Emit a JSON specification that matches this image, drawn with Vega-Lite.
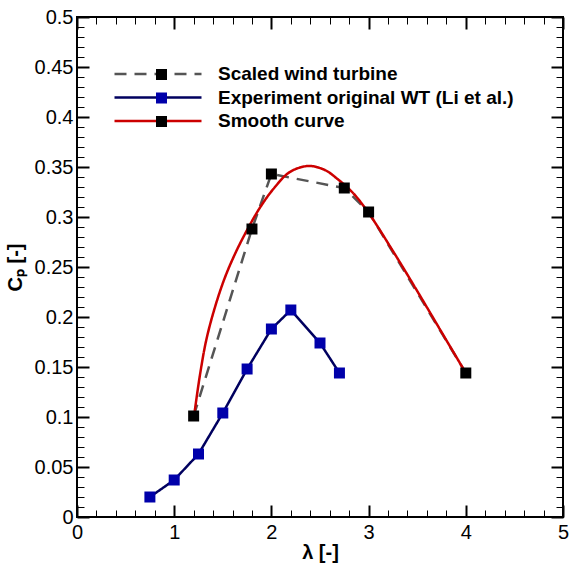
{
  "$schema": "https://vega.github.io/schema/vega-lite/v6.json",
  "width": 486,
  "height": 500,
  "autosize": {"type": "none"},
  "padding": {"left": 77, "top": 17, "right": 6, "bottom": 46},
  "config": {
    "view": {"stroke": "black", "strokeWidth": 2},
    "font": "Liberation Sans",
    "axis": {"grid": false, "domain": false, "labelFlush": false, "labelFont": "Liberation Sans", "labelFontSize": 20, "labelColor": "black", "tickColor": "black", "titleColor": "black", "titleFont": "Liberation Sans", "titleFontSize": 20, "titleFontWeight": "bold"}
  },
  "datasets": {
    "scaled": [
      {"series": "Scaled wind turbine", "lambda": 1.2, "cp": 0.101},
      {"series": "Scaled wind turbine", "lambda": 1.8, "cp": 0.288},
      {"series": "Scaled wind turbine", "lambda": 2.0, "cp": 0.343},
      {"series": "Scaled wind turbine", "lambda": 2.75, "cp": 0.329},
      {"series": "Scaled wind turbine", "lambda": 3.0, "cp": 0.305},
      {"series": "Scaled wind turbine", "lambda": 4.0, "cp": 0.144}
    ],
    "exp": [
      {"series": "Experiment original WT (Li et al.)", "lambda": 0.75, "cp": 0.020},
      {"series": "Experiment original WT (Li et al.)", "lambda": 1.0, "cp": 0.037},
      {"series": "Experiment original WT (Li et al.)", "lambda": 1.25, "cp": 0.063},
      {"series": "Experiment original WT (Li et al.)", "lambda": 1.5, "cp": 0.104},
      {"series": "Experiment original WT (Li et al.)", "lambda": 1.75, "cp": 0.148},
      {"series": "Experiment original WT (Li et al.)", "lambda": 2.0, "cp": 0.188},
      {"series": "Experiment original WT (Li et al.)", "lambda": 2.2, "cp": 0.207},
      {"series": "Experiment original WT (Li et al.)", "lambda": 2.5, "cp": 0.174},
      {"series": "Experiment original WT (Li et al.)", "lambda": 2.7, "cp": 0.144}
    ],
    "smooth": [
      {"series": "Smooth curve", "lambda": 1.21, "cp": 0.105},
      {"series": "Smooth curve", "lambda": 1.265, "cp": 0.142},
      {"series": "Smooth curve", "lambda": 1.33, "cp": 0.177},
      {"series": "Smooth curve", "lambda": 1.42, "cp": 0.210},
      {"series": "Smooth curve", "lambda": 1.52, "cp": 0.239},
      {"series": "Smooth curve", "lambda": 1.63, "cp": 0.264},
      {"series": "Smooth curve", "lambda": 1.75, "cp": 0.287},
      {"series": "Smooth curve", "lambda": 1.88, "cp": 0.309},
      {"series": "Smooth curve", "lambda": 2.02, "cp": 0.328},
      {"series": "Smooth curve", "lambda": 2.19, "cp": 0.345},
      {"series": "Smooth curve", "lambda": 2.38, "cp": 0.351},
      {"series": "Smooth curve", "lambda": 2.55, "cp": 0.347},
      {"series": "Smooth curve", "lambda": 2.68, "cp": 0.338},
      {"series": "Smooth curve", "lambda": 2.84, "cp": 0.324},
      {"series": "Smooth curve", "lambda": 3.0, "cp": 0.304},
      {"series": "Smooth curve", "lambda": 3.25, "cp": 0.266},
      {"series": "Smooth curve", "lambda": 3.5, "cp": 0.226},
      {"series": "Smooth curve", "lambda": 3.75, "cp": 0.185},
      {"series": "Smooth curve", "lambda": 4.0, "cp": 0.144}
    ]
  },
  "layer": [
    {
      "data": {"name": "scaled"},
      "mark": {"type": "line", "strokeWidth": 2.5},
      "encoding": {
        "x": {"field": "lambda", "type": "quantitative", "scale": {"domain": [0, 5], "nice": false, "zero": false},
          "axis": {"orient": "bottom", "values": [0, 1, 2, 3, 4, 5], "format": "d", "tickSize": -12, "tickWidth": 2, "labelPadding": 17, "title": "λ [-]", "titleX": 243, "titleY": 35, "titleBaseline": "middle", "titleAlign": "center"}},
        "y": {"field": "cp", "type": "quantitative", "scale": {"domain": [0, 0.5], "nice": false, "zero": false},
          "axis": {"orient": "left", "values": [0, 0.05, 0.1, 0.15, 0.2, 0.25, 0.3, 0.35, 0.4, 0.45, 0.5], "format": ".2~f", "tickSize": -12, "tickWidth": 2, "labelPadding": 16, "title": "Cₚ [-]", "titleX": -62, "titleY": 250, "titleAngle": -90, "titleAlign": "center", "titleBaseline": "middle"}},
        "stroke": {"field": "series", "type": "nominal",
          "scale": {"domain": ["Scaled wind turbine", "Experiment original WT (Li et al.)", "Smooth curve"], "range": ["#555555", "#00005f", "#cc0000"]},
          "legend": {"orient": "none", "legendX": 36, "legendY": 47.5, "direction": "vertical", "title": null, "symbolType": "stroke", "symbolSize": 7569, "symbolStrokeWidth": 2.5, "clipHeight": 19, "rowPadding": 3.5, "labelFont": "Liberation Sans", "labelFontSize": 19, "labelFontWeight": "bold", "labelColor": "black", "labelOffset": 15, "padding": 0, "labelLimit": 0}},
        "strokeDash": {"field": "series", "type": "nominal",
          "scale": {"domain": ["Scaled wind turbine", "Experiment original WT (Li et al.)", "Smooth curve"], "range": [[12, 8], [1, 0], [1, 0]]},
          "legend": {"orient": "none", "legendX": 36, "legendY": 47.5, "direction": "vertical", "title": null, "symbolType": "stroke", "symbolSize": 7569, "symbolStrokeWidth": 2.5, "clipHeight": 19, "rowPadding": 3.5, "labelFont": "Liberation Sans", "labelFontSize": 19, "labelFontWeight": "bold", "labelColor": "black", "labelOffset": 15, "padding": 0, "labelLimit": 0}}
      }
    },
    {
      "data": {"name": "exp"},
      "mark": {"type": "line", "strokeWidth": 2.5},
      "encoding": {
        "x": {"field": "lambda", "type": "quantitative",
          "axis": {"orient": "bottom", "values": [0, 0.2, 0.4, 0.6, 0.8, 1, 1.2, 1.4, 1.6, 1.8, 2, 2.2, 2.4, 2.6, 2.8, 3, 3.2, 3.4, 3.6, 3.8, 4, 4.2, 4.4, 4.6, 4.8, 5], "labels": false, "tickSize": -7, "tickWidth": 1, "title": null}},
        "y": {"field": "cp", "type": "quantitative",
          "axis": {"orient": "left", "values": [0, 0.01, 0.02, 0.03, 0.04, 0.05, 0.06, 0.07, 0.08, 0.09, 0.1, 0.11, 0.12, 0.13, 0.14, 0.15, 0.16, 0.17, 0.18, 0.19, 0.2, 0.21, 0.22, 0.23, 0.24, 0.25, 0.26, 0.27, 0.28, 0.29, 0.3, 0.31, 0.32, 0.33, 0.34, 0.35, 0.36, 0.37, 0.38, 0.39, 0.4, 0.41, 0.42, 0.43, 0.44, 0.45, 0.46, 0.47, 0.48, 0.49, 0.5], "labels": false, "tickSize": -7, "tickWidth": 1, "title": null}},
        "stroke": {"field": "series", "type": "nominal"},
        "strokeDash": {"field": "series", "type": "nominal"}
      }
    },
    {
      "data": {"name": "smooth"},
      "mark": {"type": "line", "strokeWidth": 2.5, "interpolate": "catmull-rom"},
      "encoding": {
        "x": {"field": "lambda", "type": "quantitative",
          "axis": {"orient": "top", "values": [0, 1, 2, 3, 4, 5], "labels": false, "tickSize": -12, "tickWidth": 2, "title": null}},
        "y": {"field": "cp", "type": "quantitative",
          "axis": {"orient": "right", "values": [0, 0.05, 0.1, 0.15, 0.2, 0.25, 0.3, 0.35, 0.4, 0.45, 0.5], "labels": false, "tickSize": -12, "tickWidth": 2, "title": null}},
        "stroke": {"field": "series", "type": "nominal"},
        "strokeDash": {"field": "series", "type": "nominal"}
      }
    },
    {
      "data": {"name": "scaled"},
      "mark": {"type": "point", "shape": "square", "filled": true, "size": 121, "opacity": 1},
      "encoding": {
        "x": {"field": "lambda", "type": "quantitative",
          "axis": {"orient": "top", "values": [0, 0.2, 0.4, 0.6, 0.8, 1, 1.2, 1.4, 1.6, 1.8, 2, 2.2, 2.4, 2.6, 2.8, 3, 3.2, 3.4, 3.6, 3.8, 4, 4.2, 4.4, 4.6, 4.8, 5], "labels": false, "tickSize": -7, "tickWidth": 1, "title": null}},
        "y": {"field": "cp", "type": "quantitative",
          "axis": {"orient": "right", "values": [0, 0.01, 0.02, 0.03, 0.04, 0.05, 0.06, 0.07, 0.08, 0.09, 0.1, 0.11, 0.12, 0.13, 0.14, 0.15, 0.16, 0.17, 0.18, 0.19, 0.2, 0.21, 0.22, 0.23, 0.24, 0.25, 0.26, 0.27, 0.28, 0.29, 0.3, 0.31, 0.32, 0.33, 0.34, 0.35, 0.36, 0.37, 0.38, 0.39, 0.4, 0.41, 0.42, 0.43, 0.44, 0.45, 0.46, 0.47, 0.48, 0.49, 0.5], "labels": false, "tickSize": -7, "tickWidth": 1, "title": null}},
        "fill": {"field": "series", "type": "nominal",
          "scale": {"domain": ["Scaled wind turbine", "Experiment original WT (Li et al.)", "Smooth curve"], "range": ["#000000", "#0000aa", "#000000"]},
          "legend": {"orient": "top-left", "offset": 47.5, "direction": "vertical", "title": null, "symbolType": "square", "symbolSize": 121, "symbolStrokeWidth": 0, "clipHeight": 19, "rowPadding": 3.5, "labelExpr": "''", "labelFontSize": 19, "symbolOffset": 27, "padding": 0}}
      }
    },
    {
      "data": {"name": "exp"},
      "mark": {"type": "point", "shape": "square", "filled": true, "size": 121, "opacity": 1},
      "encoding": {
        "x": {"field": "lambda", "type": "quantitative", "axis": null},
        "y": {"field": "cp", "type": "quantitative", "axis": null},
        "fill": {"field": "series", "type": "nominal"}
      }
    }
  ],
  "resolve": {"axis": {"x": "independent", "y": "independent"}}
}
